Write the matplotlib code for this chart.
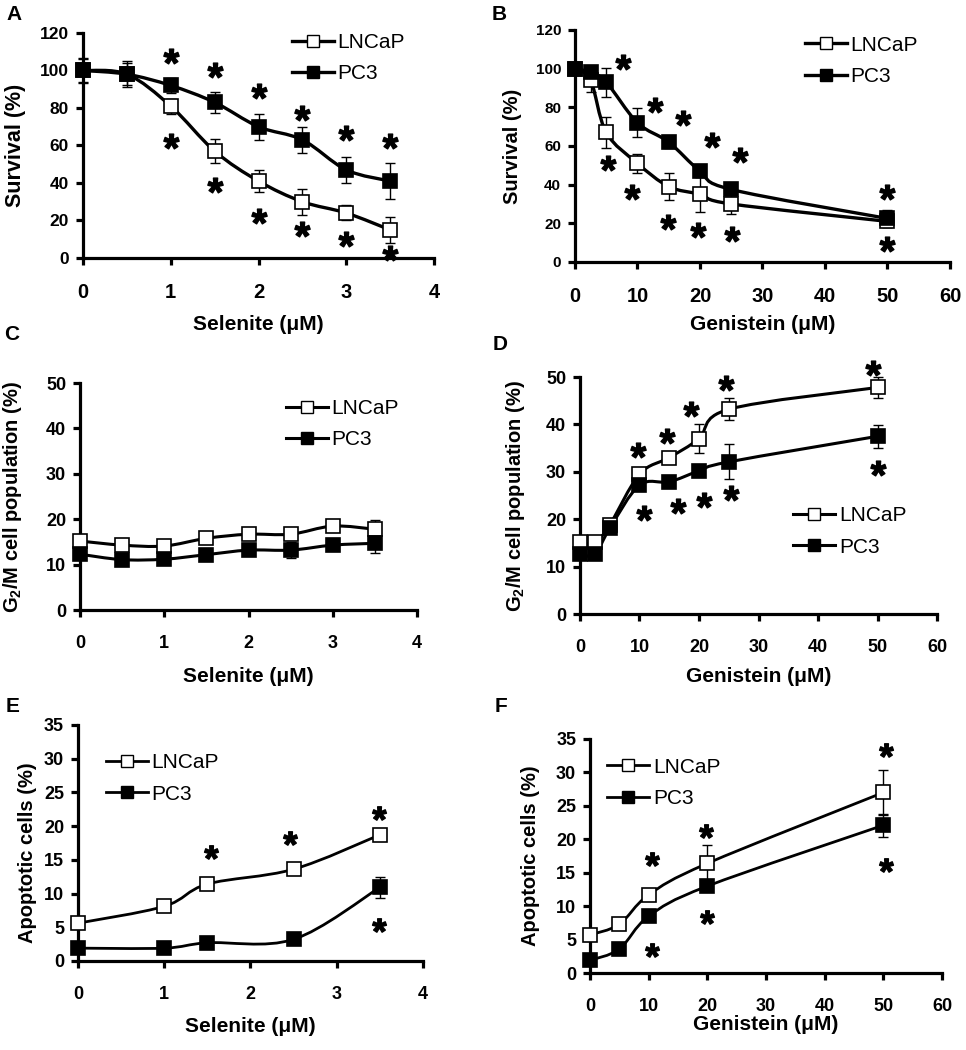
import numpy as np
import matplotlib
matplotlib.use("Agg")
import matplotlib.pyplot as plt
from matplotlib.path import Path
from matplotlib.patches import PathPatch
from matplotlib.lines import Line2D
from matplotlib.textpath import TextPath
from matplotlib.font_manager import FontProperties

plt.rcParams['font.family'] = ['Liberation Sans', 'DejaVu Sans']
plt.rcParams['font.weight'] = 'bold'
plt.rcParams['mathtext.fontset'] = 'custom'
plt.rcParams['mathtext.rm'] = 'Liberation Sans'

# ---- data ----
selenite = [0, 0.5, 1, 1.5, 2, 2.5, 3, 3.5]
genistein = [0, 2.5, 5, 10, 15, 20, 25, 50]

A_lncap = [100, 98, 81, 57, 41, 30, 24, 15]
A_lncap_err = [6, 6, 4, 6.5, 6, 7, 4, 7]
A_pc3 = [100, 98, 92, 83, 70, 63, 47, 41]
A_pc3_err = [6.5, 7, 4, 5.5, 7, 7, 7, 9.5]
A_star_up_x = [1, 1.5, 2, 2.5, 3, 3.5]
A_star_up_y = [107.6, 100.4, 88.9, 77.3, 66.7, 62.2]
A_star_dn_x = [1, 1.5, 2, 2.5, 3, 3.5]
A_star_dn_y = [62.2, 39, 22.6, 15.5, 10, 2.7]

B_lncap = [100, 94, 67, 51, 39, 35, 30, 21]
B_lncap_err = [3, 6, 8, 5, 7, 9, 5, 3]
B_pc3 = [100, 98, 93, 72, 62, 47, 37.5, 22.5]
B_pc3_err = [3, 3, 7.5, 7.5, 3, 3, 3, 4.5]
B_star_up_x = [7.7, 12.8, 17.3, 21.9, 26.4, 50]
B_star_up_y = [103.6, 81.2, 74.3, 63, 55.3, 36.3]
B_star_dn_x = [5.3, 9.1, 14.9, 19.7, 25.1, 50]
B_star_dn_y = [51, 36.3, 20.7, 16.4, 14.7, 9.5]

C_lncap = [15.2, 14.3, 14.1, 15.8, 16.7, 16.7, 18.5, 17.8]
C_lncap_err = [1, 1, 1, 1, 1, 1, 1, 2]
C_pc3 = [12.3, 11.1, 11.2, 12.2, 13.2, 13.2, 14.3, 14.7]
C_pc3_err = [1, 1, 1, 1, 1, 1.8, 1, 2.2]

D_lncap = [15.1, 15.1, 18.8, 29.5, 33, 37, 43.2, 47.8]
D_lncap_err = [1, 1, 1, 1, 1, 3, 2.3, 2.2]
D_pc3 = [12.6, 12.6, 18.1, 27.2, 27.9, 30.2, 32.1, 37.5]
D_pc3_err = [1, 1, 1, 1, 1, 1, 3.7, 2.4]
D_star_up_x = [9.7, 14.7, 18.7, 24.5, 49.2]
D_star_up_y = [34.6, 37.5, 43.3, 48.7, 51.9]
D_star_dn_x = [10.8, 16.4, 20.8, 25.4, 50]
D_star_dn_y = [21.4, 22.7, 24.1, 25.5, 30.9]

E_x = [0, 1, 1.5, 2.5, 3.5]
E_lncap = [5.6, 8.1, 11.4, 13.6, 18.7]
E_lncap_err = [0.5, 0.5, 0.5, 0.5, 0.5]
E_pc3 = [1.9, 1.9, 2.7, 3.2, 10.9]
E_pc3_err = [0.5, 0.5, 0.5, 0.5, 1.5]
E_star_up_x = [1.54, 2.46, 3.49]
E_star_up_y = [16.2, 18.2, 22]
E_star_dn_x = [3.49]
E_star_dn_y = [5.3]

F_x = [0, 5, 10, 20, 50]
F_lncap = [5.7, 7.3, 11.7, 16.4, 27]
F_lncap_err = [0.5, 0.5, 0.5, 2.7, 3.4]
F_pc3 = [1.9, 3.6, 8.5, 13, 22.1]
F_pc3_err = [0.5, 0.5, 0.5, 0.5, 1.7]
F_star_up_x = [10.6, 19.7, 50.4]
F_star_up_y = [17.1, 21.3, 33.4]
F_star_dn_x = [10.6, 20, 50.4]
F_star_dn_y = [3.4, 8.4, 16.2]

# asterisk marker centred on its ink (ignore the CLOSEPOLY dummy vertices)
_sp = TextPath((0, 0), '*', prop=FontProperties(family='Liberation Sans', weight='bold'))
_v = _sp.vertices
_ink = _v[_sp.codes != Path.CLOSEPOLY]
_c = (_ink.min(0) + _ink.max(0)) / 2
_v = np.where((_sp.codes == Path.CLOSEPOLY)[:, None], _c, _v)
star = Path(_v - _c, _sp.codes)


def smooth(x, y):
    # excel-like smoothed line (catmull-rom bezier)
    pts = np.column_stack([x, y]).astype(float)
    verts = [pts[0]]
    codes = [Path.MOVETO]
    for i in range(len(pts) - 1):
        p0 = pts[i - 1] if i > 0 else pts[i]
        p1, p2 = pts[i], pts[i + 1]
        p3 = pts[i + 2] if i + 2 < len(pts) else p2
        verts += [p1 + (p2 - p0) / 6, p2 - (p3 - p1) / 6, p2]
        codes += [Path.CURVE4] * 3
    return Path(verts, codes)


W, H = 966, 1050


def panel(rect, letter, letter_xy, x, lncap, lncap_err, pc3, pc3_err, xlim, xticks, ylim, yticks,
          xlabel, ylabel, ylabel_x, xlabel_y, leg_xy, stars=(), lw=2.2, ms=10.5,
          ytick_size=13, xtick_size=13, ylabel_size=14.5, ylabel_y=0.5, star_ms=11):
    ax = fig.add_axes(rect)
    for vals, err, fc in [(lncap, lncap_err, 'white'), (pc3, pc3_err, 'black')]:
        ax.add_patch(PathPatch(smooth(x, vals), fill=False, lw=lw, edgecolor='k', zorder=2))
        ax.errorbar(x, vals, yerr=err, fmt='none', ecolor='k', elinewidth=1, capsize=3.5,
                    capthick=1, zorder=1, clip_on=False)
        ax.plot(x, vals, ls='none', marker='s', ms=ms, mfc=fc, mec='k', mew=1.2,
                zorder=3, clip_on=False)
    for sx, sy in stars:
        ax.plot(sx, sy, ls='none', marker=star, ms=star_ms, color='k', clip_on=False, zorder=4)
    ax.set_xlim(*xlim)
    ax.set_ylim(*ylim)
    ax.set_xticks(xticks)
    ax.set_yticks(yticks)
    for s in ['top', 'right']:
        ax.spines[s].set_visible(False)
    for s in ['left', 'bottom']:
        ax.spines[s].set_linewidth(2.3)
    ax.tick_params(direction='out', length=5, width=2.3)
    ax.tick_params(axis='x', labelsize=xtick_size, pad=13)
    ax.tick_params(axis='y', labelsize=ytick_size, pad=5)
    ax.set_xlabel(xlabel, fontsize=15, fontweight='bold')
    ax.set_ylabel(ylabel, fontsize=ylabel_size, fontweight='bold')
    ax.xaxis.set_label_coords(0.5, xlabel_y)
    ax.yaxis.set_label_coords(ylabel_x, ylabel_y)
    handles = [Line2D([], [], color='k', lw=lw, marker='s', ms=8.5, mfc='white', mec='k'),
               Line2D([], [], color='k', lw=lw, marker='s', ms=8.5, mfc='black', mec='k')]
    ax.legend(handles, ['LNCaP', 'PC3'], loc='upper left', bbox_to_anchor=leg_xy,
              frameon=False, prop={'weight': 'normal', 'size': 15}, handlelength=2.0,
              handletextpad=0.2, labelspacing=0.6, borderpad=0, borderaxespad=0)
    fig.text(letter_xy[0] / W, 1 - letter_xy[1] / H, letter, fontsize=15,
             fontweight='bold', ha='center', va='center')
    return ax


fig = plt.figure(figsize=(9.66, 10.5), dpi=100)

sel_label = 'Selenite (\u03bcM)'
gen_label = 'Genistein (\u03bcM)'
g2m_label = 'G$_2$/M cell population (%)'

panel([0.0859, 0.7543, 0.3634, 0.2143], 'A', (14, 15), selenite, A_lncap, A_lncap_err, A_pc3, A_pc3_err,
      (0, 4), range(0, 5), (0, 120), range(0, 121, 20), sel_label, 'Survival (%)',
      -0.162, -0.253, (0.595, 1.0),
      stars=[(A_star_up_x, A_star_up_y), (A_star_dn_x, A_star_dn_y)],
      lw=2.4, ytick_size=12.5, xtick_size=14.5, ylabel_size=15.5)

panel([0.5952, 0.7505, 0.3882, 0.2210], 'B', (499, 14), genistein, B_lncap, B_lncap_err, B_pc3, B_pc3_err,
      (0, 60), range(0, 61, 10), (0, 120), range(0, 121, 20), gen_label, 'Survival (%)',
      -0.141, -0.228, (0.613, 0.975),
      stars=[(B_star_up_x, B_star_up_y), (B_star_dn_x, B_star_dn_y)],
      lw=2.4, ytick_size=11, xtick_size=14.5)

panel([0.0828, 0.4190, 0.3489, 0.2162], 'C', (12, 334), selenite, C_lncap, C_lncap_err, C_pc3, C_pc3_err,
      (0, 4), range(0, 5), (0, 50), range(0, 51, 10), sel_label, g2m_label,
      -0.166, -0.251, (0.611, 0.93))

panel([0.6004, 0.4152, 0.3696, 0.2257], 'D', (500, 344), genistein, D_lncap, D_lncap_err, D_pc3, D_pc3_err,
      (0, 60), range(0, 61, 10), (0, 50), range(0, 51, 10), gen_label, g2m_label,
      -0.148, -0.224, (0.597, 0.455),
      stars=[(D_star_up_x, D_star_up_y), (D_star_dn_x, D_star_dn_y)])

panel([0.0807, 0.0848, 0.3571, 0.2248], 'E', (13, 706), E_x, E_lncap, E_lncap_err, E_pc3, E_pc3_err,
      (0, 4), range(0, 5), (0, 35), range(0, 36, 5), sel_label, 'Apoptotic cells (%)',
      -0.119, -0.237, (0.081, 0.88),
      stars=[(E_star_up_x, E_star_up_y), (E_star_dn_x, E_star_dn_y)], lw=2.0, ms=10,
      ylabel_y=0.46, star_ms=10)

panel([0.6108, 0.0733, 0.3644, 0.2229], 'F', (501, 707), F_x, F_lncap, F_lncap_err, F_pc3, F_pc3_err,
      (0, 60), range(0, 61, 10), (0, 35), range(0, 36, 5), gen_label, 'Apoptotic cells (%)',
      -0.142, -0.18, (0.048, 0.92),
      stars=[(F_star_up_x, F_star_up_y), (F_star_dn_x, F_star_dn_y)], lw=2.0, ms=10,
      star_ms=10)

fig.savefig('out.png', dpi=100)
